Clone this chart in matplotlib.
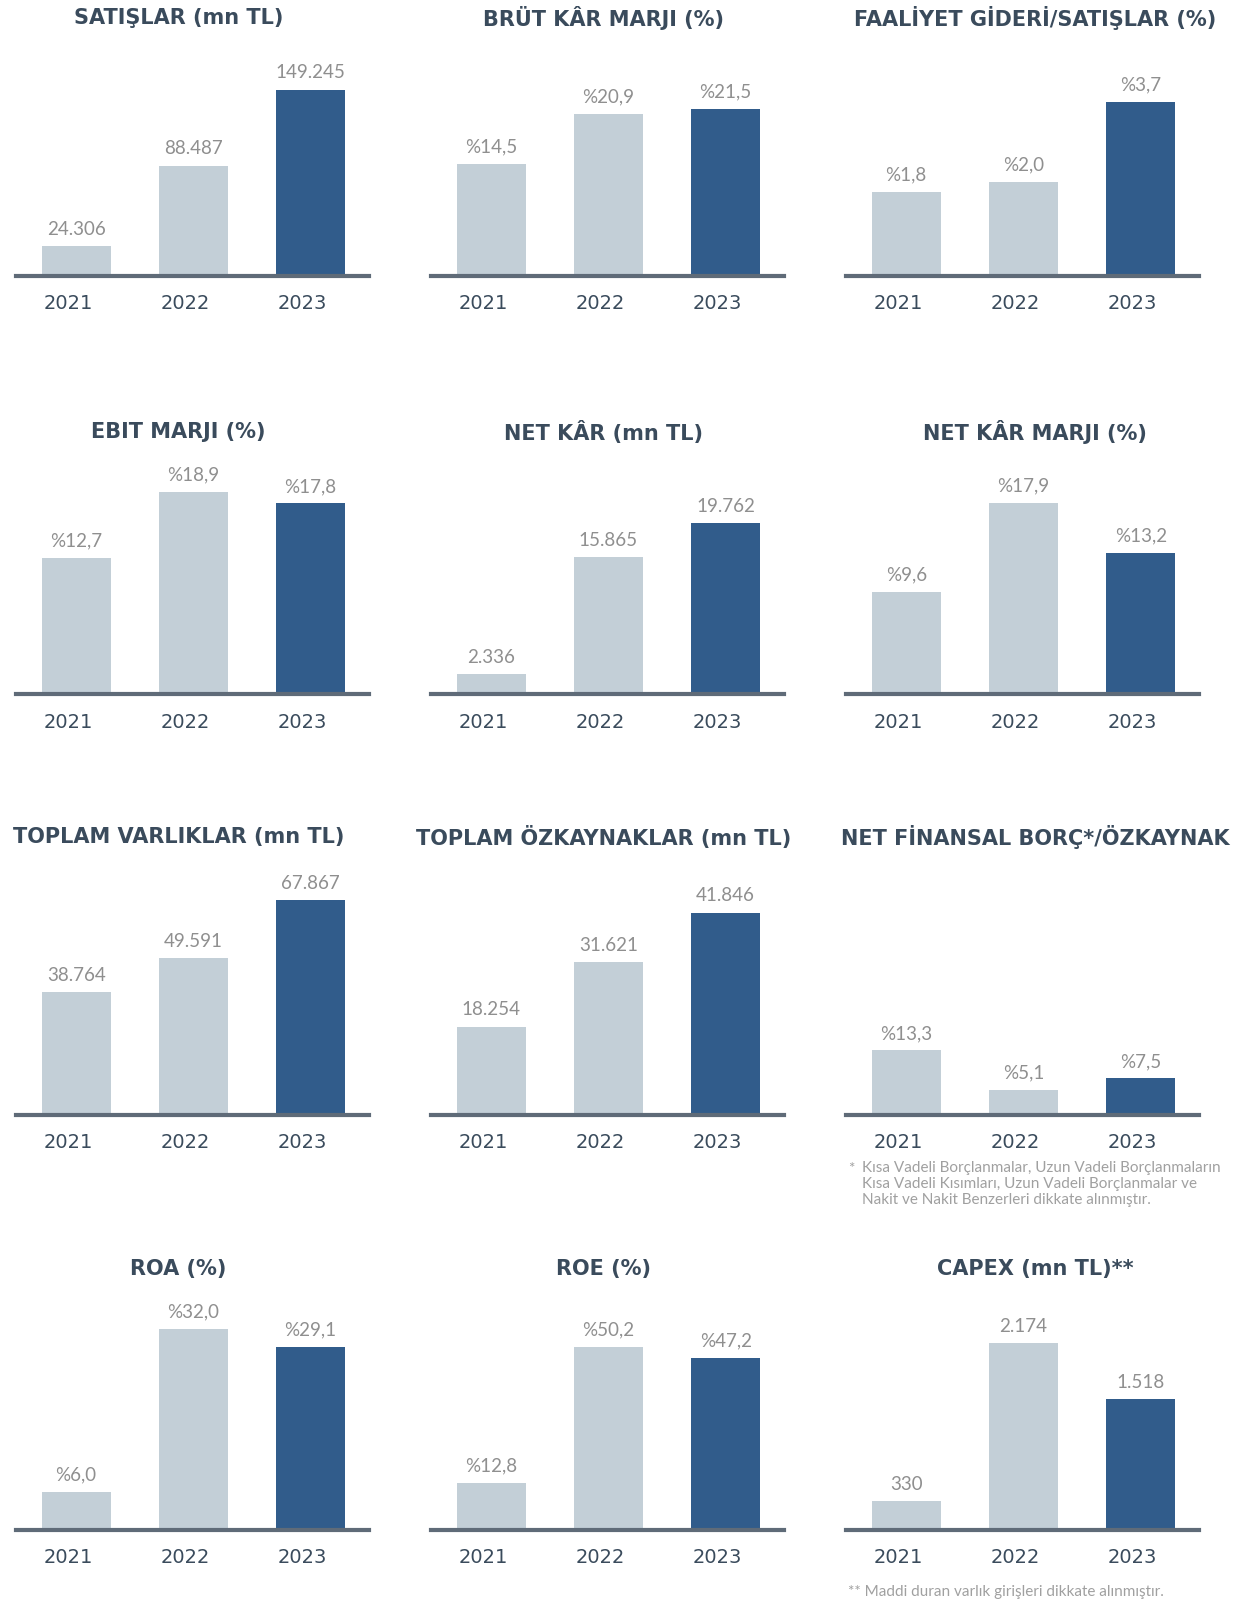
import matplotlib.pyplot as plt

years = ['2021', '2022', '2023']

titles = ['SATIŞLAR (mn TL)', 'BRÜT KÂR MARJI (%)', 'FAALİYET GİDERİ/SATIŞLAR (%)',
          'EBIT MARJI (%)', 'NET KÂR (mn TL)', 'NET KÂR MARJI (%)',
          'TOPLAM VARLIKLAR (mn TL)', 'TOPLAM ÖZKAYNAKLAR (mn TL)', 'NET FİNANSAL BORÇ*/ÖZKAYNAK',
          'ROA (%)', 'ROE (%)', 'CAPEX (mn TL)**']

satislar = [24306, 88487, 149245]
brut_kar_marji = [14.5, 20.9, 21.5]
faaliyet_gideri = [1.8, 2.0, 3.7]
ebit_marji = [12.7, 18.9, 17.8]
net_kar = [2336, 15865, 19762]
net_kar_marji = [9.6, 17.9, 13.2]
toplam_varliklar = [38764, 49591, 67867]
toplam_ozkaynaklar = [18254, 31621, 41846]
net_borc_ozkaynak = [13.3, 5.1, 7.5]
roa = [6.0, 32.0, 29.1]
roe = [12.8, 50.2, 47.2]
capex = [330, 2174, 1518]

series = [satislar, brut_kar_marji, faaliyet_gideri,
          ebit_marji, net_kar, net_kar_marji,
          toplam_varliklar, toplam_ozkaynaklar, net_borc_ozkaynak,
          roa, roe, capex]
is_pct = [False, True, True, True, False, True, False, False, True, True, True, False]

W, H = 1235, 1599
S = W / 1211.0

LIGHT = '#c3cfd7'
DARK = '#315c8b'
LINE = '#5f6b78'
TITLE = '#3a4b5c'
VALUE = '#8f8f8f'
NOTE = '#a0a0a0'
TFONT = ['DejaVu Sans']
VFONT = ['Lato', 'DejaVu Sans']

# layout in shrunk-image pixels
col_left = [16, 423, 830]
col_w = 346
title_x = [175, 592, 1015]
row_base = [271, 681, 1093, 1500]
row_title = [18, 424, 821, 1244]
# pixel height of the tallest bar in each panel
max_h = [183, 164, 171, 199, 168, 188, 210, 198, 63, 197, 179, 183]
AXH = 240


def fmt(v, pct):
    if pct:
        return '%' + ('%.1f' % v).replace('.', ',')
    return '{:,}'.format(v).replace(',', '.')


fig = plt.figure(figsize=(W / 100, H / 100), dpi=100)

for i, vals in enumerate(series):
    r, c = divmod(i, 3)
    left = col_left[c] * S / W
    bottom = 1 - row_base[r] * S / H
    ax = fig.add_axes([left, bottom, col_w * S / W, AXH * S / H])
    ax.bar(range(3), vals, width=0.59, color=[LIGHT, LIGHT, DARK], zorder=2)
    ax.set_xlim(-0.51, 2.5)
    top = max(vals) * AXH / max_h[i]
    ax.set_ylim(0, top)
    for k, v in enumerate(vals):
        ax.annotate(fmt(v, is_pct[i]), (k, v), xytext=(0, 6), textcoords='offset points',
                    ha='center', va='bottom', fontsize=13.5, color=VALUE, family=VFONT)
    for s in ['top', 'right', 'left']:
        ax.spines[s].set_visible(False)
    ax.spines['bottom'].set_color(LINE)
    ax.spines['bottom'].set_linewidth(3)
    ax.spines['bottom'].set_zorder(3)
    ax.set_yticks([])
    ax.set_xticks([k - 0.07 for k in range(3)])
    ax.set_xticklabels(years, fontsize=14, color=TITLE, family=TFONT)
    ax.tick_params(axis='x', length=0, pad=13)
    ax.patch.set_alpha(0)
    fig.text(title_x[c] * S / W, 1 - row_title[r] * S / H, titles[i], ha='center', va='center',
             fontsize=15, fontweight='bold', color=TITLE, family=TFONT)

fig.text(832 * S / W, 1 - 1146 * S / H, '*', fontsize=11, color=NOTE, va='center', family=VFONT)
fig.text(845 * S / W, 1 - 1138 * S / H,
         'Kısa Vadeli Borçlanmalar, Uzun Vadeli Borçlanmaların\n'
         'Kısa Vadeli Kısımları, Uzun Vadeli Borçlanmalar ve\n'
         'Nakit ve Nakit Benzerleri dikkate alınmıştır.',
         fontsize=11, color=NOTE, va='top', linespacing=1.2, family=VFONT)
fig.text(832 * S / W, 1 - 1561 * S / H, '** Maddi duran varlık girişleri dikkate alınmıştır.',
         fontsize=11, color=NOTE, va='center', family=VFONT)

fig.savefig('out.png', dpi=100, facecolor='white')
